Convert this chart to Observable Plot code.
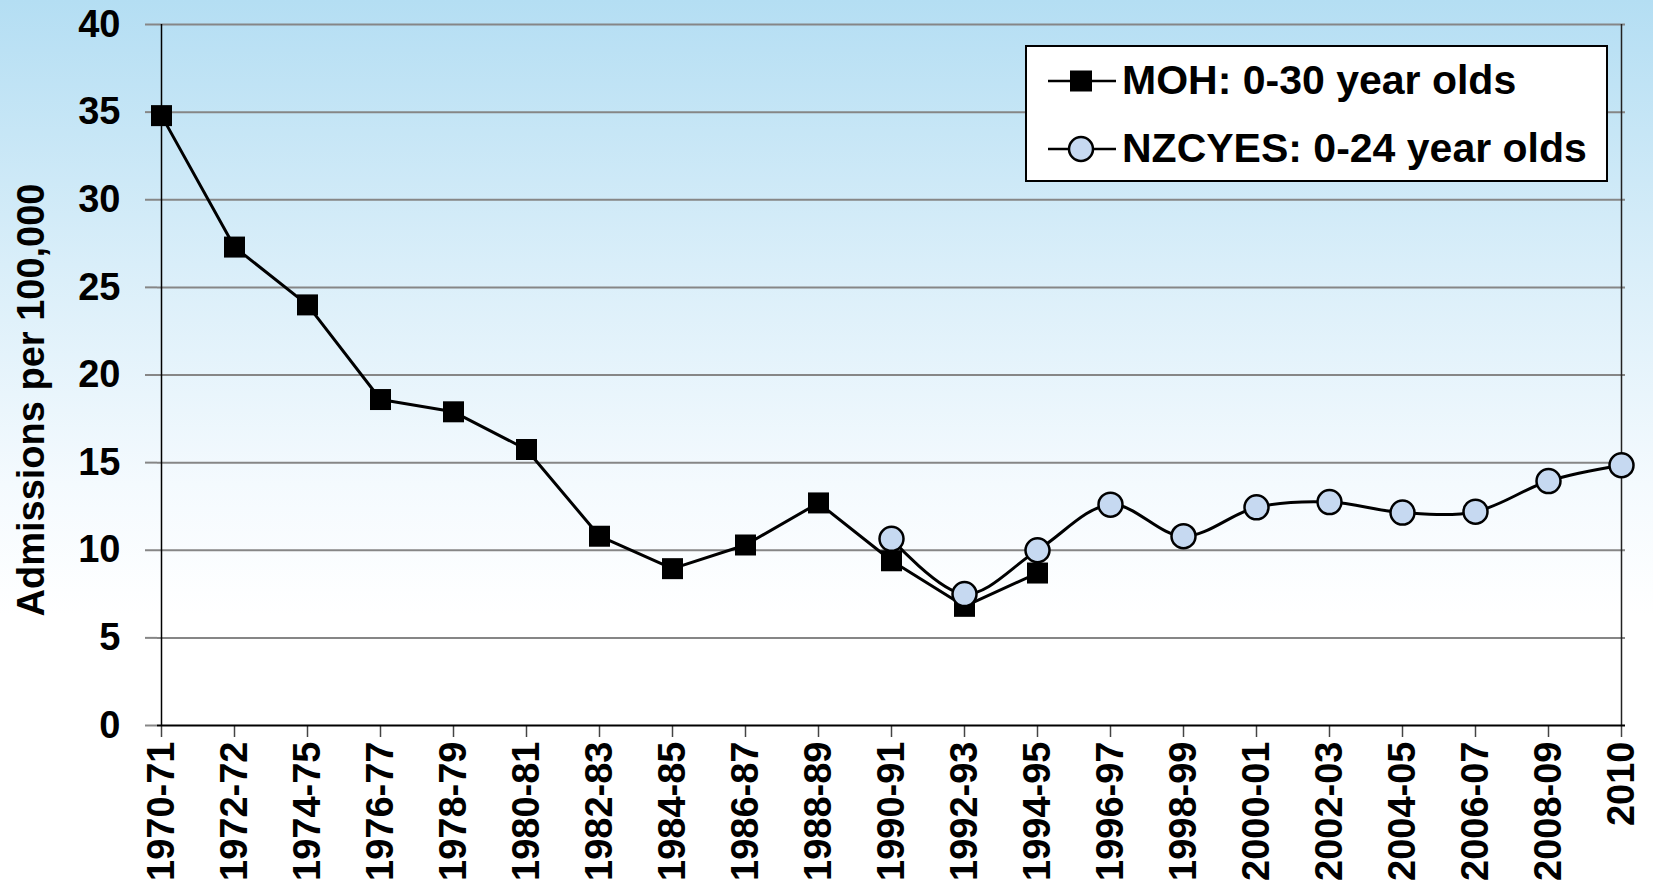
<!DOCTYPE html>
<html>
<head>
<meta charset="utf-8">
<script src="https://cdn.jsdelivr.net/npm/d3@7"></script>
<script src="https://cdn.jsdelivr.net/npm/@observablehq/plot@0.6"></script>
<style>
  html, body { margin: 0; padding: 0; }
  body {
    width: 1653px; height: 880px; overflow: hidden;
    background: linear-gradient(to bottom, #b4def3 0%, #d9eef9 30%, #f4fafe 55%, #ffffff 70%, #ffffff 100%);
    font-family: "Liberation Sans", Arial, sans-serif;
  }
  #wrap { position: relative; width: 1653px; height: 880px; }
  #legend {
    position: absolute; left: 1025px; top: 45px; width: 583px; height: 137px;
    box-sizing: border-box; border: 2px solid #000; background: #fff;
  }
  .row { position: absolute; left: 0; height: 41px; width: 100%; }
  .row svg { position: absolute; left: 19px; top: 3px; }
  .row span {
    position: absolute; left: 95px; top: 0; font-size: 41px; line-height: 41px;
    font-weight: bold; color: #000; white-space: nowrap;
  }
</style>
</head>
<body>
<div id="wrap">
  <div id="chart"></div>
  <div id="legend">
    <div class="row" style="top:13px">
      <svg width="72" height="36"><line x1="2" x2="70" y1="18" y2="18" stroke="#000" stroke-width="2.5"/><rect x="24" y="7.5" width="22" height="21" fill="#000"/></svg>
      <span id="l1"></span>
    </div>
    <div class="row" style="top:81px">
      <svg width="72" height="36"><line x1="2" x2="70" y1="18" y2="18" stroke="#000" stroke-width="2.5"/><circle cx="35" cy="18" r="12" fill="#c6d9f1" stroke="#000" stroke-width="2.5"/></svg>
      <span id="l2"></span>
    </div>
  </div>
</div>
<script>
const categories = ["1970-71","1972-72","1974-75","1976-77","1978-79","1980-81","1982-83","1984-85","1986-87","1988-89","1990-91","1992-93","1994-95","1996-97","1998-99","2000-01","2002-03","2004-05","2006-07","2008-09","2010"];
const mohCategories = categories.slice(0, 13);
const mohValues = [34.8, 27.3, 24.0, 18.6, 17.9, 15.75, 10.8, 8.95, 10.3, 12.7, 9.4, 6.8, 8.7];
const nzcyesCategories = categories.slice(10);
const nzcyesValues = [10.65, 7.5, 10.0, 12.6, 10.8, 12.45, 12.75, 12.15, 12.2, 13.95, 14.85];
const yTicks = [0, 5, 10, 15, 20, 25, 30, 35, 40];
const gridTicks = [5, 10, 15, 20, 25, 30, 35, 40];
const seriesNames = ["MOH: 0-30 year olds", "NZCYES: 0-24 year olds"];
const yLabel = "Admissions per 100,000";

const moh = mohCategories.map((c, i) => ({cat: c, value: mohValues[i]}));
const nzcyes = nzcyesCategories.map((c, i) => ({cat: c, value: nzcyesValues[i]}));

document.getElementById("l1").textContent = seriesNames[0];
document.getElementById("l2").textContent = seriesNames[1];

const font = "'Liberation Sans', Arial, sans-serif";

const chart = Plot.plot({
  width: 1653,
  height: 880,
  marginLeft: 157,
  marginRight: 28,
  marginTop: 24,
  marginBottom: 155,
  style: {background: "transparent", fontFamily: font, fontSize: "38px", fontWeight: "bold", color: "#000", overflow: "visible"},
  x: {type: "point", domain: categories, padding: 0, label: null},
  y: {domain: [0, 40], label: null},
  marks: [
    Plot.ruleY(gridTicks, {stroke: "#868686", strokeWidth: 2, strokeOpacity: 1}),
    Plot.axisY({ticks: yTicks, tickSize: 12, tickPadding: 25, stroke: "#868686", strokeWidth: 2, strokeOpacity: 1, fill: "#000", fontSize: 38, fontWeight: "bold", label: null}),
    Plot.ruleX([categories[0]], {y1: 0, y2: 40, stroke: "#000", strokeWidth: 1.5}),
    Plot.ruleX([categories[categories.length - 1]], {y1: 0, y2: 40, stroke: "#222", strokeWidth: 1.5}),
    Plot.axisX({tickRotate: -90, tickSize: 12, tickPadding: 4, stroke: "#444", strokeWidth: 1.5, strokeOpacity: 1, fill: "#000", fontSize: 38, fontWeight: "bold", label: null}),
    Plot.ruleY([0], {stroke: "#000", strokeWidth: 2}),
    Plot.text([yLabel], {frameAnchor: "left", dx: -126, dy: 25, rotate: -90, textAnchor: "middle", lineAnchor: "middle", fontSize: 38, fontWeight: "bold", fill: "#000"}),
    Plot.line(moh, {x: "cat", y: "value", stroke: "#000", strokeWidth: 3}),
    Plot.line(nzcyes, {x: "cat", y: "value", stroke: "#000", strokeWidth: 3, curve: "catmull-rom"}),
    Plot.dot(moh, {x: "cat", y: "value", symbol: "square", r: 11.85, fill: "#000", stroke: "none"}),
    Plot.dot(nzcyes, {x: "cat", y: "value", symbol: "circle", r: 12, fill: "#c6d9f1", stroke: "#000", strokeWidth: 2.5})
  ]
});
document.getElementById("chart").appendChild(chart);
</script>
</body>
</html>
